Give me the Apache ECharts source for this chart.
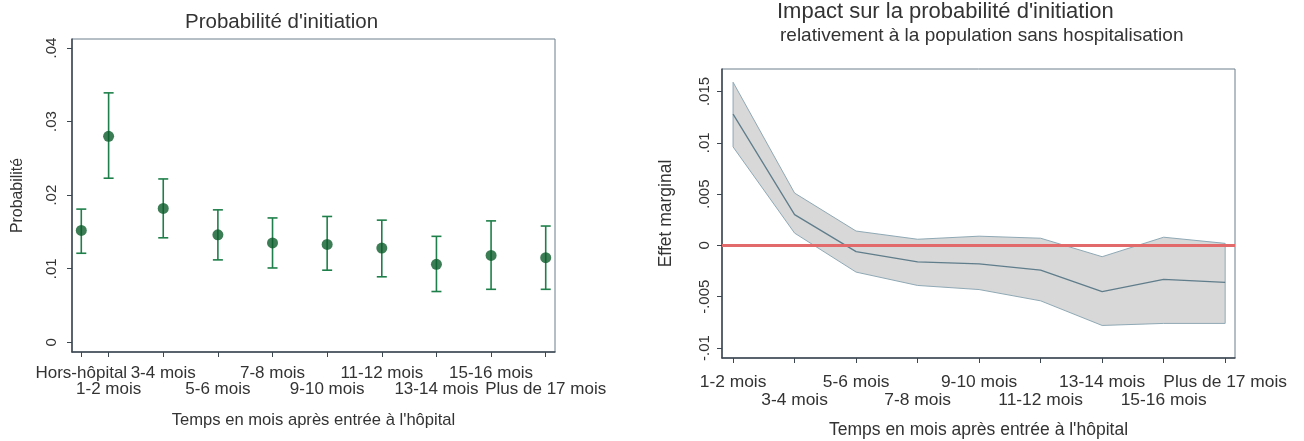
<!DOCTYPE html>
<html>
<head>
<meta charset="utf-8">
<script src="https://cdn.jsdelivr.net/npm/echarts@6/dist/echarts.min.js"></script>
<style>
  html, body { margin: 0; padding: 0; background: #fff; }
  #main { width: 1304px; height: 441px; }
</style>
</head>
<body>
<div id="main"></div>
<script>
// graphique de gauche : probabilité d'initiation (point + intervalle)
const leftCats = ['Hors-hôpital', '1-2 mois', '3-4 mois', '5-6 mois', '7-8 mois', '9-10 mois', '11-12 mois', '13-14 mois', '15-16 mois', 'Plus de 17 mois'];
const leftPos = [0.5, 1, 2, 3, 4, 5, 6, 7, 8, 9];
const leftMean = [0.0152, 0.0280, 0.0182, 0.0146, 0.0135, 0.0133, 0.0128, 0.0106, 0.0118, 0.0115];
const leftLow = [0.0121, 0.0223, 0.0142, 0.0112, 0.0101, 0.0098, 0.0089, 0.0069, 0.0072, 0.0072];
const leftHigh = [0.0181, 0.0339, 0.0222, 0.0180, 0.0169, 0.0171, 0.0166, 0.0144, 0.0165, 0.0158];
const leftYTicks = [0, 0.01, 0.02, 0.03, 0.04];
const leftYLabels = ['0', '.01', '.02', '.03', '.04'];

// graphique de droite : effet marginal (ligne + bande de confiance)
const rightCats = ['1-2 mois', '3-4 mois', '5-6 mois', '7-8 mois', '9-10 mois', '11-12 mois', '13-14 mois', '15-16 mois', 'Plus de 17 mois'];
const rightPos = [1, 2, 3, 4, 5, 6, 7, 8, 9];
const rightMean = [0.0128, 0.0030, -0.0006, -0.0016, -0.0018, -0.0024, -0.0045, -0.0033, -0.0036];
const rightLow = [0.0096, 0.0012, -0.0026, -0.0039, -0.0043, -0.0054, -0.0078, -0.0076, -0.0076];
const rightHigh = [0.0159, 0.0051, 0.0014, 0.0006, 0.0009, 0.0007, -0.0011, 0.0008, 0.0002];
const rightYTicks = [-0.01, -0.005, 0, 0.005, 0.01, 0.015];
const rightYLabels = ['-.01', '-.005', '0', '.005', '.01', '.015'];

const FONT = 'Liberation Sans, Arial, sans-serif';
const TXT = '#333';
const AXC = '#3b4650';

function pick(arr, labels, v) {
  for (let i = 0; i < arr.length; i++) {
    if (Math.abs(arr[i] - v) < 1e-9) return labels[i];
  }
  return '';
}
// étiquettes sur deux rangées : une rangée = un axe
function rowVals(pos, r) {
  return pos.filter(function (p, i) { return i % 2 === r; });
}

function xAxes(g, min, max, pos, cats, fs, margin, lh, nameFs, nameGap) {
  const fmt = function (v) { return pick(pos, cats, v); };
  return [
    {
      type: 'value', gridIndex: g, min: min, max: max, position: 'bottom', offset: 0,
      name: "Temps en mois après entrée à l'hôpital", nameLocation: 'middle', nameGap: nameGap,
      nameTextStyle: { fontFamily: FONT, fontSize: nameFs, color: TXT },
      axisLine: { onZero: false, lineStyle: { color: AXC, width: 1.5 } },
      axisTick: { show: true, length: 5, lineStyle: { color: AXC }, customValues: pos },
      axisLabel: { fontFamily: FONT, fontSize: fs, color: TXT, margin: margin,
        customValues: rowVals(pos, 0), formatter: fmt },
      splitLine: { show: false }
    },
    {
      type: 'value', gridIndex: g, min: min, max: max, position: 'bottom', offset: 0,
      axisLine: { show: false, onZero: false },
      axisTick: { show: false },
      axisLabel: { fontFamily: FONT, fontSize: fs, color: TXT, margin: margin + lh,
        customValues: rowVals(pos, 1), formatter: fmt },
      splitLine: { show: false }
    }
  ];
}

const myChart = echarts.init(document.getElementById('main'));

myChart.setOption({
  backgroundColor: '#fff',
  animation: false,
  title: [
    { text: "Probabilité d'initiation", left: 185, top: 12, padding: 0,
      textStyle: { fontFamily: FONT, fontSize: 20.5, fontWeight: 'normal', color: TXT } },
    { text: "Impact sur la probabilité d'initiation", left: 777, top: 1, padding: 0,
      textStyle: { fontFamily: FONT, fontSize: 22, fontWeight: 'normal', color: TXT } },
    { text: 'relativement à la population sans hospitalisation', left: 780, top: 26, padding: 0,
      textStyle: { fontFamily: FONT, fontSize: 19, fontWeight: 'normal', color: TXT } }
  ],
  grid: [
    { left: 72, top: 39, right: 749, bottom: 89, show: true, borderColor: '#6f7f8c', borderWidth: 1,
      outerBoundsMode: 'none' },
    { left: 722, top: 69, right: 69, bottom: 83, show: true, borderColor: '#6f7f8c', borderWidth: 1,
      outerBoundsMode: 'none' }
  ],
  xAxis: xAxes(0, 0.33, 9.17, leftPos, leftCats, 17, 12.5, 16.6, 16.6, 60)
    .concat(xAxes(1, 0.82, 9.16, rightPos, rightCats, 17.4, 16, 17.7, 17.5, 63)),
  yAxis: [
    {
      type: 'value', gridIndex: 0, min: -0.00132, max: 0.04122,
      name: 'Probabilité', nameLocation: 'middle', nameGap: 46,
      nameTextStyle: { fontFamily: FONT, fontSize: 15.9, color: TXT },
      axisLine: { onZero: false, lineStyle: { color: AXC, width: 1.5 } },
      axisTick: { show: true, length: 5, lineStyle: { color: AXC }, customValues: leftYTicks },
      axisLabel: { fontFamily: FONT, fontSize: 15, color: TXT, rotate: 90, margin: 13,
        customValues: leftYTicks, formatter: function (v) { return pick(leftYTicks, leftYLabels, v); } },
      splitLine: { show: false }
    },
    {
      type: 'value', gridIndex: 1, min: -0.01097, max: 0.01719,
      name: 'Effet marginal', nameLocation: 'middle', nameGap: 46.5,
      nameTextStyle: { fontFamily: FONT, fontSize: 17.5, color: TXT },
      axisLine: { onZero: false, lineStyle: { color: AXC, width: 1.5 } },
      axisTick: { show: true, length: 5, lineStyle: { color: AXC }, customValues: rightYTicks },
      axisLabel: { fontFamily: FONT, fontSize: 15, color: TXT, rotate: 90, margin: 10,
        customValues: rightYTicks, formatter: function (v) { return pick(rightYTicks, rightYLabels, v); } },
      splitLine: { show: false }
    }
  ],
  series: [
    // barres d'erreur
    {
      type: 'custom', xAxisIndex: 0, yAxisIndex: 0,
      data: leftPos.map(function (p, i) { return [p, leftLow[i], leftHigh[i]]; }),
      renderItem: function (params, api) {
        const lo = api.coord([api.value(0), api.value(1)]);
        const hi = api.coord([api.value(0), api.value(2)]);
        const w = 5;
        const st = { stroke: '#1f7f4a', lineWidth: 1.6 };
        return {
          type: 'group',
          children: [
            { type: 'line', shape: { x1: lo[0], y1: lo[1], x2: hi[0], y2: hi[1] }, style: st },
            { type: 'line', shape: { x1: lo[0] - w, y1: lo[1], x2: lo[0] + w, y2: lo[1] }, style: st },
            { type: 'line', shape: { x1: hi[0] - w, y1: hi[1], x2: hi[0] + w, y2: hi[1] }, style: st }
          ]
        };
      }
    },
    {
      type: 'scatter', xAxisIndex: 0, yAxisIndex: 0,
      symbolSize: 11,
      itemStyle: { color: '#0b5c2b' },
      data: leftPos.map(function (p, i) { return [p, leftMean[i]]; }),
      z: 3
    },
    // bande de confiance
    {
      type: 'custom', xAxisIndex: 2, yAxisIndex: 1,
      data: [0],
      renderItem: function (params, api) {
        const pts = [];
        for (let i = 0; i < rightPos.length; i++) pts.push(api.coord([rightPos[i], rightHigh[i]]));
        for (let i = rightPos.length - 1; i >= 0; i--) pts.push(api.coord([rightPos[i], rightLow[i]]));
        return { type: 'polygon', shape: { points: pts }, style: { fill: '#d8d8d8', stroke: '#8fa9b5', lineWidth: 1 } };
      },
      z: 1
    },
    {
      type: 'line', xAxisIndex: 2, yAxisIndex: 1,
      data: rightPos.map(function (p, i) { return [p, rightMean[i]]; }),
      showSymbol: false,
      lineStyle: { color: '#5f7d8b', width: 1.3 },
      z: 2,
      markLine: {
        silent: true, symbol: 'none', label: { show: false },
        lineStyle: { color: '#e36a6a', width: 3, type: 'solid' },
        data: [{ yAxis: 0 }]
      }
    }
  ]
});
</script>
</body>
</html>
